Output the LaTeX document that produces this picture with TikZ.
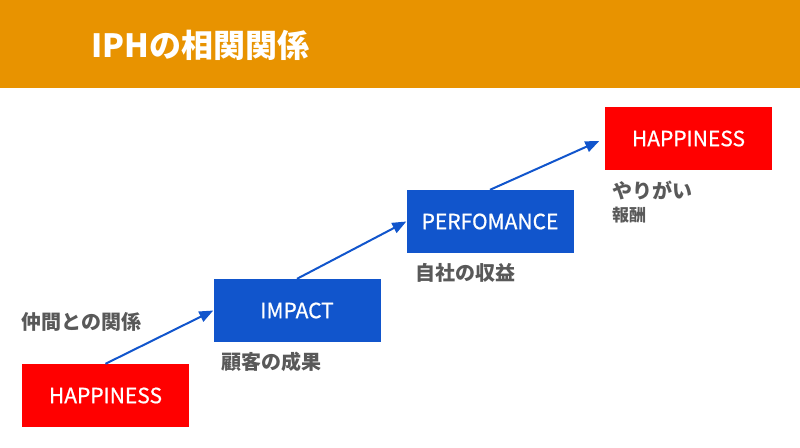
\documentclass[tikz,border=0pt]{standalone}
\usepackage{fontspec}
\usetikzlibrary{arrows.meta}
\newfontfamily\jp{Noto Sans CJK JP}
\newfontfamily\boxfont{Noto Sans CJK JP}[FakeBold=0.7]
\definecolor{barorange}{HTML}{E89300}
\definecolor{boxred}{HTML}{FF0000}
\definecolor{boxblue}{HTML}{1155CC}
\definecolor{labelgray}{HTML}{595959}
\tikzset{
  stepbox/.style={rectangle, minimum width=167pt, minimum height=63pt, inner sep=0pt, text=white, font=\boxfont\fontsize{21}{25}\selectfont},
  redbox/.style={stepbox, fill=boxred},
  bluebox/.style={stepbox, fill=boxblue},
  lbl/.style={anchor=west, inner sep=0pt, text=labelgray, font=\jp\bfseries\fontsize{20}{24}\selectfont},
  conn/.style={draw=boxblue, line width=2pt, -{Triangle[length=14pt,width=11pt]}}
}
\begin{document}
\begin{tikzpicture}[x=1pt,y=-1pt]
\useasboundingbox (0,0) rectangle (800,447);
\fill[barorange] (0,0) rectangle (800,88);
\node[anchor=west, inner sep=0pt, text=white, font=\jp\bfseries\fontsize{32}{38}\selectfont] (title) at (91,45) {IPHの相関関係};

\node[redbox] (h1) at (105.5,395.5) {HAPPINESS};
\node[bluebox] (imp) at (297,310.5) {IMPACT};
\node[bluebox] (perf) at (490,221.5) {PERFOMANCE};
\node[redbox] (h2) at (688.5,138.5) {HAPPINESS};

\draw[conn] (h1.north) -- (imp.west);
\draw[conn] (imp.north) -- (perf.west);
\draw[conn, shorten >=6pt] (perf.north) -- (h2.west);

\node[lbl] (l1) at (21,322) {仲間との関係};
\node[lbl] (l2) at (221,362) {顧客の成果};
\node[lbl] (l3) at (415,273) {自社の収益};
\node[lbl] (l4) at (612,190) {やりがい};
\node[lbl, font=\jp\bfseries\fontsize{17}{20}\selectfont] (l5) at (612,215) {報酬};
\end{tikzpicture}
\end{document}
